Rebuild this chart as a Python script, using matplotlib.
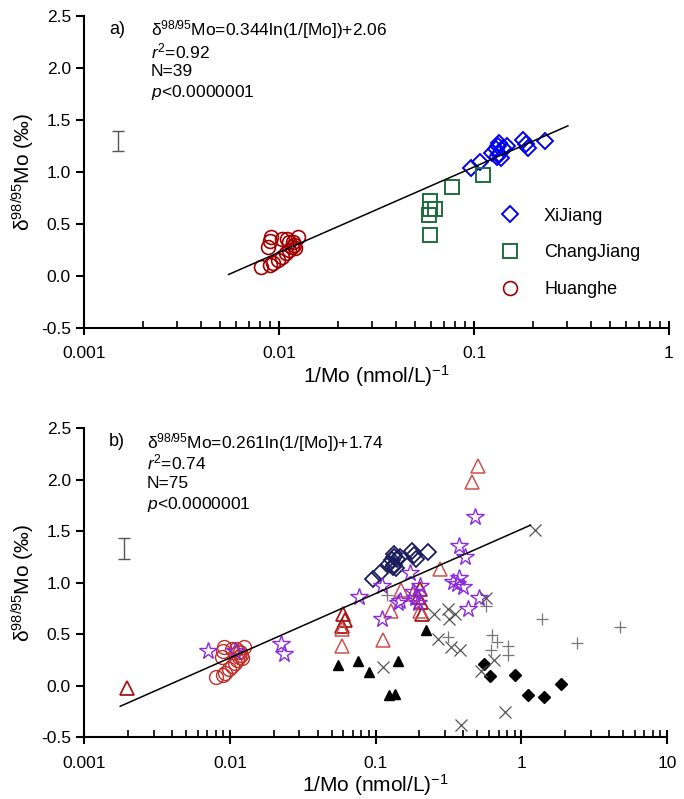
import numpy as np
import matplotlib
matplotlib.use('Agg')
import matplotlib.pyplot as plt
from matplotlib.ticker import FuncFormatter, LogLocator, MultipleLocator

plt.rcParams['font.family'] = ['Liberation Sans', 'DejaVu Sans']
plt.rcParams['mathtext.fontset'] = 'custom'
plt.rcParams['mathtext.rm'] = 'Liberation Sans'
plt.rcParams['mathtext.it'] = 'Liberation Sans:italic'

# panel a data
xijiang_x = [0.096, 0.107, 0.124, 0.129, 0.133, 0.134, 0.138, 0.134, 0.141, 0.147, 0.131, 0.179, 0.184, 0.190, 0.231]
xijiang_y = [1.04, 1.10, 1.18, 1.22, 1.25, 1.28, 1.14, 1.17, 1.23, 1.25, 1.15, 1.31, 1.27, 1.23, 1.30]

chang_x = [0.0596, 0.0596, 0.0590, 0.0634, 0.0596, 0.0767, 0.111]
chang_y = [0.72, 0.65, 0.59, 0.65, 0.40, 0.86, 0.97]

huang_x = [0.0081, 0.0090, 0.0093, 0.0099, 0.0104, 0.0108, 0.0112, 0.0116, 0.0119, 0.0113,
           0.0088, 0.0090, 0.0091, 0.0104, 0.0110, 0.0125, 0.0118, 0.0121]
huang_y = [0.09, 0.11, 0.13, 0.16, 0.19, 0.22, 0.25, 0.28, 0.30, 0.33,
           0.28, 0.34, 0.38, 0.36, 0.36, 0.38, 0.33, 0.27]

# panel b extra data
tri_dark_x = [0.00196, 0.0598, 0.062, 0.059, 0.201, 0.195, 0.205, 0.208]
tri_dark_y = [-0.02, 0.70, 0.635, 0.58, 0.94, 0.86, 0.81, 0.70]
tri_light_x = [0.059, 0.059, 0.112, 0.128, 0.150, 0.181, 0.201, 0.279, 0.463, 0.503]
tri_light_y = [0.55, 0.39, 0.45, 0.73, 0.93, 0.89, 0.73, 1.135, 1.98, 2.13]

star_x = [0.00706, 0.0109, 0.0226, 0.0234, 0.0769, 0.110, 0.110, 0.142, 0.147, 0.172, 0.181,
          0.188, 0.201, 0.195, 0.376, 0.412, 0.479, 0.339, 0.376, 0.36, 0.40, 0.43, 0.51]
star_y = [0.34, 0.34, 0.41, 0.31, 0.86, 0.97, 0.65, 0.80, 0.82, 1.10, 0.91,
          0.85, 0.97, 0.80, 1.355, 1.25, 1.64, 1.01, 1.05, 0.99, 0.96, 0.75, 0.85]

btri_x = [0.0551, 0.0755, 0.0908, 0.124, 0.135, 0.142, 0.223]
btri_y = [0.20, 0.24, 0.135, -0.09, -0.075, 0.24, 0.545]

bdia_x = [0.558, 0.611, 0.907, 1.117, 1.425, 1.89]
bdia_y = [0.21, 0.094, 0.103, -0.09, -0.105, 0.016]

cross_x = [1.248, 0.113, 0.252, 0.27, 0.316, 0.32, 0.35, 0.33, 0.38, 0.389, 0.57, 0.53, 0.655, 0.769]
cross_y = [1.51, 0.18, 0.70, 0.46, 0.75, 0.65, 0.70, 0.38, 0.345, -0.38, 0.85, 0.145, 0.25, -0.25]

plus_x = [0.12, 0.316, 0.57, 0.63, 0.62, 0.68, 0.807, 0.81, 1.39, 2.42, 4.80]
plus_y = [0.88, 0.47, 0.78, 0.49, 0.35, 0.43, 0.39, 0.30, 0.65, 0.42, 0.57]

# fit lines, y = slope*log10(x) + icpt, drawn between x ends
fit_a = (0.82, 1.87, 0.0055, 0.303)
fit_b = (0.624, 1.52, 0.00177, 1.157)

# error bars (x, y, half width)
err_a = (0.00149, 1.30, 0.10)
err_b = (0.00187, 1.335, 0.10)

text_a = ['δ$^{98/95}$Mo=0.344ln(1/[Mo])+2.06', '$\\mathit{r}^{2}$=0.92', 'N=39', '$\\mathit{p}$<0.0000001']
text_b = ['δ$^{98/95}$Mo=0.261ln(1/[Mo])+1.74', '$\\mathit{r}^{2}$=0.74', 'N=75', '$\\mathit{p}$<0.0000001']


def style_axes(ax, xmax):
    ax.set_xscale('log')
    ax.set_xlim(0.001, xmax)
    ax.set_ylim(-0.5, 2.5)
    for s in ['top', 'right']:
        ax.spines[s].set_visible(False)
    for s in ['left', 'bottom']:
        ax.spines[s].set_linewidth(1.5)
    ax.yaxis.set_major_locator(MultipleLocator(0.5))
    ax.yaxis.set_major_formatter(FuncFormatter(lambda v, p: '%.1f' % v))
    ax.xaxis.set_major_locator(LogLocator(base=10, numticks=10))
    ax.xaxis.set_minor_locator(LogLocator(base=10, subs=np.arange(2, 10), numticks=10))
    ax.xaxis.set_major_formatter(FuncFormatter(lambda v, p: '%g' % v))
    ax.tick_params(axis='y', which='major', direction='out', length=6, width=1.5, labelsize=12.5)
    ax.tick_params(axis='x', which='major', direction='inout', length=10, width=1.5, labelsize=12.5, pad=8)
    ax.tick_params(axis='x', which='minor', direction='in', length=5, width=1.2)
    ax.set_xlabel('1/Mo (nmol/L)$^{-1}$', fontsize=15, labelpad=1)
    ax.set_ylabel('δ$^{98/95}$Mo (‰)', fontsize=15, labelpad=3)


def draw_fit(ax, fit):
    slope, icpt, x0, x1 = fit
    xs = np.logspace(np.log10(x0), np.log10(x1), 50)
    ax.plot(xs, slope * np.log10(xs) + icpt, color='black', lw=1.1, zorder=5)


def draw_text(ax, tag, lines, tx):
    ax.text(0.043, 0.957, tag, transform=ax.transAxes, fontsize=13, va='center')
    for i, line in enumerate(lines):
        ax.text(tx, 0.955 - i * 0.067, line, transform=ax.transAxes, fontsize=12.5, va='center')


fig = plt.figure(figsize=(6.84, 7.99), dpi=100)
ax1 = fig.add_axes([0.123, 0.589, 0.855, 0.391])
ax2 = fig.add_axes([0.123, 0.077, 0.852, 0.387])

# panel a
ax1.errorbar([err_a[0]], [err_a[1]], yerr=[err_a[2]], color='#555555', capsize=4, lw=1, capthick=1)
draw_fit(ax1, fit_a)
ax1.plot(xijiang_x, xijiang_y, 'D', ms=8, mfc='none', mec='#0000ee', mew=1.4, label='XiJiang')
ax1.plot(chang_x, chang_y, 's', ms=10, mfc='none', mec='#1e6e3c', mew=1.4, label='ChangJiang')
ax1.plot(huang_x, huang_y, 'o', ms=10, mfc='none', mec='#a00000', mew=1.2, label='Huanghe')
style_axes(ax1, 1)
draw_text(ax1, 'a)', text_a, 0.114)
ax1.legend(loc='upper left', bbox_to_anchor=(0.70, 0.41), frameon=False, fontsize=13,
           labelspacing=1.1, handletextpad=1.4, handlelength=1.0, borderaxespad=0)

# panel b
ax2.errorbar([err_b[0]], [err_b[1]], yerr=[err_b[2]], color='#555555', capsize=4, lw=1, capthick=1)
draw_fit(ax2, fit_b)
ax2.plot(huang_x, huang_y, 'o', ms=10, mfc='none', mec='#c0302a', mew=1.0)
ax2.plot(xijiang_x, xijiang_y, 'D', ms=8, mfc='none', mec='#1c1c60', mew=1.3)
ax2.plot(tri_dark_x, tri_dark_y, '^', ms=10, mfc='none', mec='#a81818', mew=1.3)
ax2.plot(tri_light_x, tri_light_y, '^', ms=10, mfc='none', mec='#d05050', mew=1.1)
ax2.plot(star_x, star_y, '*', ms=13, mfc='none', mec='#8a2be2', mew=1.0)
ax2.plot(btri_x, btri_y, '^', ms=7, color='black')
ax2.plot(bdia_x, bdia_y, 'D', ms=6, color='black')
ax2.plot(cross_x, cross_y, 'x', ms=8, color='#555555', mew=0.9)
ax2.plot(plus_x, plus_y, '+', ms=9, color='#777777', mew=0.9)
style_axes(ax2, 10)
draw_text(ax2, 'b)', text_b, 0.108)

fig.savefig('out.png', dpi=100)
